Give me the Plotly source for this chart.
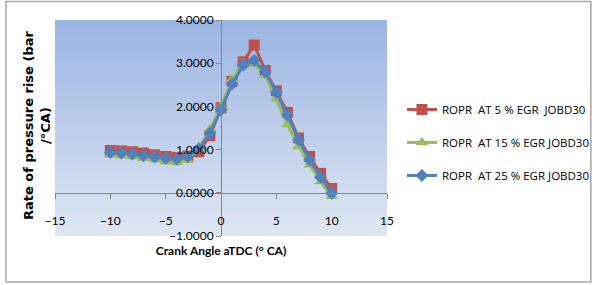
import plotly.graph_objects as go

crank_angle = [-10, -9, -8, -7, -6, -5, -4, -3, -2, -1, 0, 1, 2, 3, 4, 5, 6, 7, 8, 9, 10]
ropr_egr5 = [0.98, 0.97, 0.95, 0.92, 0.88, 0.84, 0.82, 0.85, 0.95, 1.32, 1.97, 2.58, 3.03, 3.42, 2.83, 2.36, 1.86, 1.27, 0.84, 0.45, 0.10]
ropr_egr15 = [0.88, 0.86, 0.84, 0.80, 0.77, 0.72, 0.70, 0.76, 1.02, 1.47, 2.00, 2.62, 3.00, 2.98, 2.72, 2.17, 1.58, 1.08, 0.65, 0.26, -0.08]
ropr_egr25 = [0.93, 0.92, 0.90, 0.86, 0.83, 0.80, 0.78, 0.84, 1.02, 1.38, 1.92, 2.52, 2.95, 3.06, 2.80, 2.32, 1.80, 1.23, 0.76, 0.36, -0.01]
series_names = ["ROPR\u00a0 AT 5 % EGR\u00a0 JOBD30", "ROPR\u00a0 AT 15 % EGR JOBD30", "ROPR\u00a0 AT 25 % EGR JOBD30"]
y_tick_values = [-1, 0, 1, 2, 3, 4]
x_tick_values = [-15, -10, -5, 0, 5, 10, 15]

FONT = "Lato, Open Sans, sans-serif"

fig = go.Figure()
styles = [
    dict(color="#C0504D", symbol="square", size=11),
    dict(color="#9BBB59", symbol="triangle-up", size=11),
    dict(color="#4F81BD", symbol="diamond", size=10),
]
for i, (vals, name, st) in enumerate(zip([ropr_egr5, ropr_egr15, ropr_egr25], series_names, styles)):
    fig.add_trace(go.Scatter(
        x=crank_angle, y=vals, name=name, mode="lines+markers",
        line=dict(color=st["color"], width=3),
        marker=dict(symbol=st["symbol"], size=st["size"], color=st["color"]),
        legendgroup=f"g{i}",
    ))

# gradient plot background
top = (155, 181, 226)
bot = (222, 230, 243)
n = 60
for k in range(n):
    t = k / (n - 1)
    c = tuple(round(top[j] + (bot[j] - top[j]) * t) for j in range(3))
    fig.add_shape(type="rect", xref="x domain", yref="y domain",
                  x0=0, x1=1, y0=max(0, 1 - (k + 1) / n - 0.01), y1=1 - k / n,
                  fillcolor=f"rgb{c}", line_width=0, layer="below")

fig.update_layout(
    width=592, height=285,
    margin=dict(l=55, r=205, t=20, b=49, autoexpand=False),
    paper_bgcolor="white", plot_bgcolor="rgba(0,0,0,0)",
    font=dict(family=FONT, size=12, color="#000000"),
    showlegend=True,
    legend=dict(x=0.679, xanchor="left", xref="container", y=0.433, yanchor="middle",
                font=dict(size=11.5, family="Open Sans"), tracegroupgap=14,
                bgcolor="rgba(0,0,0,0)", itemwidth=30),
    xaxis=dict(range=[-15, 15], tickvals=x_tick_values, showgrid=False, zeroline=False,
               showline=True, linecolor="#868686", linewidth=1,
               ticks="outside", ticklen=5, tickcolor="#868686",
               anchor="free", position=0.2, ticklabelstandoff=12, automargin=False,
               tickfont=dict(size=12, family=FONT),
               title=dict(text="<b>Crank Angle aTDC (° CA)</b>", standoff=19,
                          font=dict(size=12, family=FONT))),
    yaxis=dict(range=[-1, 4], tickvals=y_tick_values, tickformat=".4f", showgrid=False,
               zeroline=False, showline=True, linecolor="#868686", linewidth=1,
               ticks="outside", ticklen=5, tickcolor="#868686",
               anchor="free", position=0.5, automargin=False,
               tickfont=dict(size=12, family=FONT)),
)

fig.add_annotation(text="<b>Rate of pressure rise (bar<br>/°CA)</b>", xref="paper", yref="paper",
                   x=-0.108, y=0.51, textangle=-90, showarrow=False,
                   font=dict(size=13, family="DejaVu Sans"), align="center")

# outer border
fig.add_shape(type="rect", xref="paper", yref="paper", x0=-0.1476, x1=1.614, y0=-0.213, y1=1.086,
              line=dict(color="#A6A6A6", width=1.5), fillcolor="rgba(0,0,0,0)")

fig.write_html("out.html", config={"displayModeBar": False},
               post_script="document.body.style.margin='0';document.body.style.overflow='hidden';")
